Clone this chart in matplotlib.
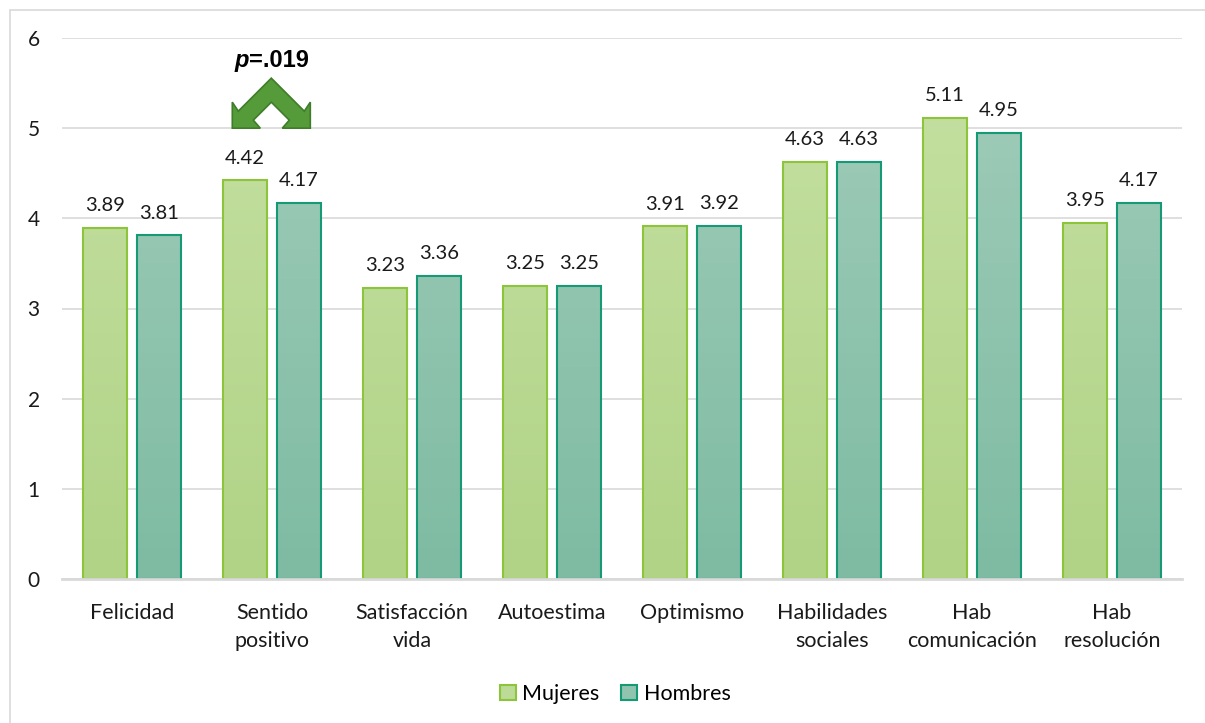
import numpy as np
import matplotlib
matplotlib.use("Agg")
import matplotlib.pyplot as plt
from matplotlib.patches import Polygon, Rectangle, Patch
from matplotlib.colors import LinearSegmentedColormap

categories = ["Felicidad", "Sentido\npositivo", "Satisfacción\nvida", "Autoestima",
              "Optimismo", "Habilidades\nsociales", "Hab\ncomunicación", "Hab\nresolución"]
mujeres = [3.89, 4.42, 3.23, 3.25, 3.91, 4.63, 5.11, 3.95]
hombres = [3.81, 4.17, 3.36, 3.25, 3.92, 4.63, 4.95, 4.17]
series_names = ["Mujeres", "Hombres"]
yticks = [0, 1, 2, 3, 4, 5, 6]
p_label_category = 1
p_value_text = "=.019"

plt.rcParams['font.family'] = ['Lato', 'DejaVu Sans']

fig = plt.figure(figsize=(12.05, 7.23), dpi=100)
ax = fig.add_axes([62/1205, 1-579/723, 1120/1205, (579-38)/723])

# outer chart border (only top/left visible in reference)
fig.patches.append(Rectangle((10/1205, -0.1), 1.2, 1 - 10/723 + 0.1, transform=fig.transFigure,
                             fill=False, edgecolor="#d9d9d9", linewidth=1.2, zorder=0))

x = np.arange(len(categories))
w = 0.32
gap = 0.065 / 2

styles = [
    dict(top="#c6e1a3", bot="#b0d386", edge="#8cc43c"),
    dict(top="#a2cdbb", bot="#7ebba2", edge="#169a76"),
]

for s, (vals, st) in enumerate(zip([mujeres, hombres], styles)):
    pos = x + (-1 if s == 0 else 1) * (w / 2 + gap)
    bars = ax.bar(pos, vals, width=w, facecolor="none", edgecolor=st["edge"],
                  linewidth=1.5, zorder=3)
    cmap = LinearSegmentedColormap.from_list("g%d" % s, [st["bot"], st["top"]])
    grad = np.linspace(0, 1, 256).reshape(-1, 1)
    for b, v in zip(bars, vals):
        x0 = b.get_x()
        im = ax.imshow(grad, cmap=cmap, aspect="auto", origin="lower",
                       extent=[x0, x0 + w, 0, 6], zorder=2)
        im.set_clip_path(b)
        ax.annotate(f"{v:.2f}", (b.get_x() + w / 2, v), xytext=(0, 10),
                    textcoords="offset points", ha="center", va="bottom",
                    fontsize=14.5, color="#1a1a1a", zorder=5)

ax.set_xlim(-0.5, len(categories) - 0.5)
ax.set_ylim(0, 6)
ax.set_yticks(yticks)
ax.set_yticklabels([str(t) for t in yticks], fontsize=15, color="#1a1a1a")
ax.set_xticks(x)
ax.set_xticklabels(categories, fontsize=15.5, color="#1a1a1a", linespacing=1.5)
ax.tick_params(axis="both", length=0)
ax.tick_params(axis="y", pad=16)
ax.tick_params(axis="x", pad=17)
ax.grid(axis="y", color="#d9d9d9", linewidth=1.2, zorder=0)
ax.set_axisbelow(True)
for sp in ["top", "right", "left"]:
    ax.spines[sp].set_visible(False)
ax.spines["bottom"].set_color("#d9d9d9")
ax.spines["bottom"].set_linewidth(2)
ax.spines["bottom"].set_zorder(4)

# significance chevron
px_x, px_y = 140.0, 90.17
shape_px = [(0, 50), (-33, 17), (-39, 26), (-39, 0), (-11, 0), (-18, 8), (0, 26),
            (18, 8), (11, 0), (39, 0), (39, 26), (33, 17)]
cx = p_label_category - 0.005
base = 5.0
poly = Polygon([(cx + dx / px_x, base + dy / px_y) for dx, dy in shape_px], closed=True,
               facecolor="#559b3a", edgecolor="#3f7d2a", linewidth=1.2, zorder=6,
               clip_on=False)
ax.add_patch(poly)

ty = 5.755
split = cx - 22 / px_x
ax.text(split, ty, "p", ha="right", va="center", fontsize=17, fontweight="bold",
        fontstyle="italic", family="Liberation Sans", color="#000000", zorder=7)
ax.text(split, ty, p_value_text, ha="left", va="center", fontsize=17, fontweight="bold",
        family="Liberation Sans", color="#000000", zorder=7)

handles = [Patch(facecolor="#bcdb97", edgecolor=styles[0]["edge"], linewidth=1.5),
           Patch(facecolor="#90c4af", edgecolor=styles[1]["edge"], linewidth=1.5)]
fig.legend(handles, series_names, loc="center", bbox_to_anchor=(615/1205, 1 - 694/723),
           ncol=2, frameon=False, fontsize=15.5, handlelength=0.75, handleheight=0.75,
           handletextpad=0.3, columnspacing=1.0)

fig.savefig("out.png", dpi=100)
